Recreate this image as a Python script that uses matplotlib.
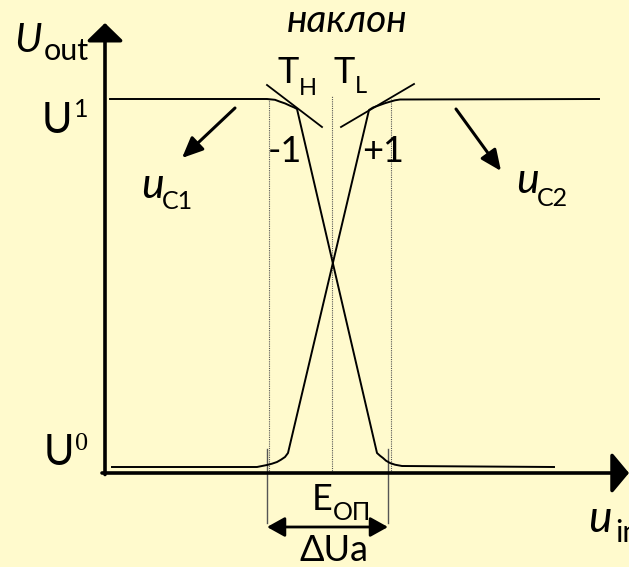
import matplotlib
matplotlib.use("Agg")
import matplotlib.pyplot as plt

# ---- data (u_in, U_out in diagram units; origin at axes corner) ----
uc1_x = [5, 162, 170, 175, 180, 185, 189, 192, 272, 275, 278, 281, 285, 290, 297, 449]
uc1_y = [374, 374, 373.2, 371.3, 369.6, 367.3, 365.6, 364, 20, 17.3, 15, 12.3, 10, 8.3, 7, 6]

uc2_x = [7, 152, 162, 167, 172, 176, 180, 183, 264, 268, 275, 280, 285, 290, 295, 494]
uc2_y = [6, 6, 8, 9.3, 11, 13.3, 16, 20, 363, 365.5, 368, 369.8, 371.3, 372.7, 373.5, 374]

tangent_h_x = [162, 217]
tangent_h_y = [388, 346]
tangent_l_x = [236, 309]
tangent_l_y = [346, 389]

guide_x = [164, 227, 286]          # dotted verticals
guide_top = [374, 377, 374]
span_x = [162, 283]                # ΔUa limits
span_y = [24, -50]
span_arrow_y = -54

x_axis_end = 524
y_axis_end = 450

arrow_c1 = [(130, 365), (77, 315)]
arrow_c2 = [(351, 364), (396, 302)]

BG = "#FFFACD"

fig = plt.figure(figsize=(6.29, 5.67), dpi=100, facecolor=BG)
ax = fig.add_axes([0, 0, 1, 1])
ax.set_facecolor(BG)
ax.set_xlim(-105, 524)
ax.set_ylim(-94, 473)
ax.axis("off")

FONT = ["Lato", "DejaVu Sans"]

# axes with arrowheads
ax.annotate("", xy=(0, y_axis_end), xytext=(0, -1.5),
            arrowprops=dict(arrowstyle="-|>,head_length=0.78,head_width=0.8",
                            lw=2.6, color="black", mutation_scale=14,
                            shrinkA=0, shrinkB=0), annotation_clip=False)
ax.annotate("", xy=(x_axis_end, 0), xytext=(-3, 0),
            arrowprops=dict(arrowstyle="-|>,head_length=0.75,head_width=0.9",
                            lw=2.6, color="black", mutation_scale=14,
                            shrinkA=0, shrinkB=0), annotation_clip=False)

# dotted guides
for gx, gt in zip(guide_x, guide_top):
    ax.plot([gx, gx], [0, gt], color="#555555", lw=0.8, ls=(0, (1, 1)))

# span verticals
for sx in span_x:
    ax.plot([sx, sx], span_y, color="#555555", lw=1.0)
ax.annotate("", xy=(span_x[1], span_arrow_y), xytext=(span_x[0], span_arrow_y),
            arrowprops=dict(arrowstyle="<|-|>,head_length=0.9,head_width=0.5",
                            lw=2.0, color="black", mutation_scale=12,
                            shrinkA=0, shrinkB=0))

# curves
ax.plot(uc1_x, uc1_y, color="black", lw=1.4, solid_joinstyle="round")
ax.plot(uc2_x, uc2_y, color="black", lw=1.4, solid_joinstyle="round")
ax.plot(tangent_h_x, tangent_h_y, color="black", lw=1.3)
ax.plot(tangent_l_x, tangent_l_y, color="black", lw=1.3)

# pointer arrows
for (p0, p1) in (arrow_c1, arrow_c2):
    ax.annotate("", xy=p1, xytext=p0,
                arrowprops=dict(arrowstyle="-|>,head_length=0.9,head_width=0.4",
                                lw=2.2, color="black", mutation_scale=14,
                                shrinkA=0, shrinkB=0))

def t(x, y, s, size, style="normal", family=FONT, ha="left"):
    ax.text(x, y, s, fontsize=size, fontstyle=style, family=family,
            ha=ha, va="baseline", color="black")

# U_out
t(-91, 421, "U", 29, "italic")
t(-61, 413, "out", 22)
# U^1, U^0
t(-63, 340, "U", 30)
t(-31, 356, "1", 18)
t(-61, 8, "U", 30)
t(-30, 23, "0", 19, family=["Liberation Serif", "DejaVu Serif"])
# наклон
t(242, 441, "наклон", 28, "italic", ha="center")
# T_H, T_L
t(172, 390, "T", 26)
t(194, 378, "H", 17)
t(228, 390, "T", 26)
t(250, 380, "L", 17)
# slopes
t(163, 311, "-1", 26)
t(257, 311, "+1", 26)
# u_C1, u_C2
t(36, 275, "u", 31, "italic")
t(57, 264, "C1", 18)
t(411, 280, "u", 31, "italic")
t(432, 267, "C2", 18)
# E_оп, ΔUa
t(207, -37, "E", 26)
t(228, -47, "ОП", 18)
t(195, -88, "ΔUa", 26)
# u_in
t(483, -59, "u", 32, "italic")
t(510, -69, "in", 22)

fig.savefig("out.png", dpi=100, facecolor=BG)
